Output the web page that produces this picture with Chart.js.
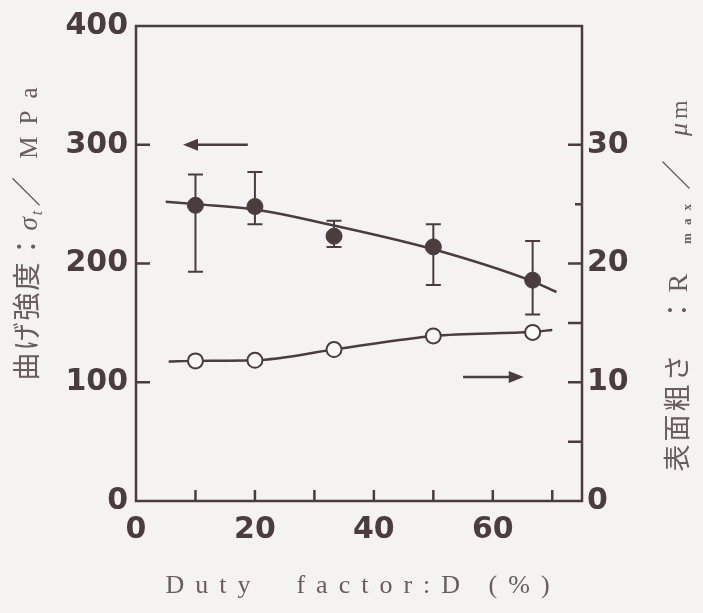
<!DOCTYPE html>
<html>
<head>
<meta charset="utf-8">
<script src="https://cdn.jsdelivr.net/npm/chart.js@4/dist/chart.umd.min.js"></script>
<style>
  html, body { margin: 0; padding: 0; background: #f5f3f2; }
  canvas { display: block; }
</style>
</head>
<body>
<canvas id="c" width="703" height="613"></canvas>
<script>
// Duty factor D (%) of each measured condition
const dutyFactor = [10, 20, 33.3, 50, 66.7];
// Bending strength (MPa), mean and scatter band
const strength = [249, 248, 223, 214, 186];
const strengthHigh = [275, 277, 236, 233, 219];
const strengthLow = [193, 233, 214, 182, 157];
// Surface roughness Rmax (µm)
const roughness = [11.8, 11.85, 12.75, 13.9, 14.2];

// Trend curves drawn through the data
const strengthCurveD = [5, 10, 20, 33.3, 50, 66.7, 70.7];
const strengthCurve = [252, 250, 245.5, 232, 212, 185, 176];
const roughCurveD = [5.5, 10, 20, 33.3, 50, 66.7, 70];
const roughCurve = [11.75, 11.8, 11.85, 12.75, 13.9, 14.25, 14.4];

// Axis ticks
const xTickLabels = [0, 20, 40, 60];
const xTickMarks = [10, 20, 30, 40, 50, 60, 70];
const leftTickLabels = [0, 100, 200, 300, 400];
const leftTickMarks = [100, 200, 300];
const rightTickLabels = [0, 10, 20, 30];
const rightTickMarks = [5, 10, 15, 20, 25, 30];

// Arrows pointing each curve to its axis: [tail D, head D], level on that axis
const strengthArrowD = [18.8, 7.9];
const strengthArrowLevel = 300;
const roughArrowD = [55, 65.2];
const roughArrowLevel = 10.45;

const INK = '#4b3d3d';
const TITLE_INK = '#6a5c5c';
const CJK = '"Noto Sans CJK JP", "Noto Sans CJK SC", sans-serif';
const SERIF = '"Liberation Serif", "DejaVu Serif", serif';
const TICK_FONT = { family: '"DejaVu Sans", sans-serif', size: 30, weight: 'bold' };

const toXY = (xs, ys) => xs.map((x, i) => ({ x, y: ys[i] }));

// draws a run of text pieces along one baseline, centred on (cx, cy)
function drawRichText(ctx, pieces, cx, cy, angle) {
  ctx.save();
  ctx.translate(cx, cy);
  ctx.rotate(angle);
  ctx.textBaseline = 'alphabetic';
  ctx.textAlign = 'left';
  let total = 0;
  const widths = pieces.map(p => {
    ctx.font = p.font;
    ctx.letterSpacing = (p.ls || 0) + 'px';
    const w = ctx.measureText(p.text).width;
    total += (p.gap || 0) + w;
    return w;
  });
  let x = -total / 2;
  pieces.forEach((p, i) => {
    x += p.gap || 0;
    ctx.font = p.font;
    ctx.letterSpacing = (p.ls || 0) + 'px';
    ctx.fillStyle = p.color || TITLE_INK;
    ctx.fillText(p.text, x, (p.dy || 0) + 9);
    x += widths[i];
  });
  ctx.restore();
}

function arrow(ctx, x0, x1, y) {
  const dir = Math.sign(x1 - x0);
  ctx.beginPath();
  ctx.moveTo(x0, y);
  ctx.lineTo(x1 - dir * 12, y);
  ctx.stroke();
  ctx.beginPath();
  ctx.moveTo(x1, y);
  ctx.lineTo(x1 - dir * 15, y - 6);
  ctx.lineTo(x1 - dir * 15, y + 6);
  ctx.closePath();
  ctx.fill();
}

const decorations = {
  id: 'decorations',
  afterDatasetsDraw(chart) {
    const { ctx, chartArea: a, scales } = chart;
    const x = scales.x, yl = scales.y, yr = scales.y2;
    ctx.save();
    ctx.strokeStyle = INK;
    ctx.fillStyle = INK;
    ctx.lineCap = 'butt';

    // scatter bars of the strength data
    ctx.lineWidth = 2;
    dutyFactor.forEach((d, i) => {
      const px = x.getPixelForValue(d);
      const top = yl.getPixelForValue(strengthHigh[i]);
      const bot = yl.getPixelForValue(strengthLow[i]);
      ctx.beginPath();
      ctx.moveTo(px, top); ctx.lineTo(px, bot);
      ctx.moveTo(px - 7.5, top); ctx.lineTo(px + 7.5, top);
      ctx.moveTo(px - 7.5, bot); ctx.lineTo(px + 7.5, bot);
      ctx.stroke();
    });

    // frame
    ctx.lineWidth = 2.5;
    ctx.strokeRect(a.left, a.top, a.right - a.left, a.bottom - a.top);

    // inward tick marks
    ctx.beginPath();
    leftTickMarks.forEach(v => {
      const py = yl.getPixelForValue(v);
      ctx.moveTo(a.left, py); ctx.lineTo(a.left + 14, py);
    });
    rightTickMarks.forEach(v => {
      const py = yr.getPixelForValue(v);
      ctx.moveTo(a.right, py); ctx.lineTo(a.right - (v === 25 ? 7 : 14), py);
    });
    xTickMarks.forEach(v => {
      const px = x.getPixelForValue(v);
      ctx.moveTo(px, a.bottom); ctx.lineTo(px, a.bottom - 11);
    });
    ctx.stroke();

    // arrows
    arrow(ctx, x.getPixelForValue(strengthArrowD[0]), x.getPixelForValue(strengthArrowD[1]),
      yl.getPixelForValue(strengthArrowLevel));
    arrow(ctx, x.getPixelForValue(roughArrowD[0]), x.getPixelForValue(roughArrowD[1]),
      yr.getPixelForValue(roughArrowLevel));
    ctx.restore();
  },
  afterDraw(chart) {
    const { ctx, chartArea: a } = chart;
    // left axis title
    drawRichText(ctx, [
      { text: '曲げ強度', font: `28px ${CJK}`, ls: 2 },
      { text: '：', font: `28px ${CJK}` },
      { text: 'σ', font: `italic 27px ${SERIF}`, gap: 2 },
      { text: 't', font: `italic 16px ${SERIF}`, gap: 2, dy: 5 },
      { text: '／', font: `30px ${CJK}`, gap: 4 },
      { text: 'MPa', font: `25px ${SERIF}`, gap: 18, ls: 12 }
    ], 28, 228, -Math.PI / 2);
    // right axis title
    drawRichText(ctx, [
      { text: '表面粗さ', font: `27px ${CJK}`, ls: 3 },
      { text: '：', font: `27px ${CJK}`, gap: 28 },
      { text: 'R', font: `28px ${SERIF}`, gap: 4 },
      { text: 'max', font: `bold 13px ${SERIF}`, gap: 30, ls: 8, dy: 4 },
      { text: '／', font: `30px ${CJK}`, gap: 6 },
      { text: 'μ', font: `italic 26px ${SERIF}`, gap: 24 },
      { text: 'm', font: `24px ${SERIF}`, gap: 4 }
    ], 678, 286, -Math.PI / 2);
    // x axis title
    drawRichText(ctx, [
      { text: 'Duty  factor:D (%)', font: `26px ${SERIF}`, ls: 11 }
    ], (a.left + a.right) / 2 + 4, 584, 0);
  }
};

new Chart(document.getElementById('c'), {
  type: 'line',
  data: {
    datasets: [
      {
        label: 'strength curve', yAxisID: 'y',
        data: toXY(strengthCurveD, strengthCurve),
        borderColor: INK, borderWidth: 2.5, pointRadius: 0,
        cubicInterpolationMode: 'monotone', order: 3
      },
      {
        label: 'roughness curve', yAxisID: 'y2',
        data: toXY(roughCurveD, roughCurve),
        borderColor: INK, borderWidth: 2.5, pointRadius: 0,
        cubicInterpolationMode: 'monotone', order: 3
      },
      {
        label: '曲げ強度', yAxisID: 'y',
        data: toXY(dutyFactor, strength),
        showLine: false, pointRadius: 8,
        pointBackgroundColor: INK, pointBorderColor: INK, pointBorderWidth: 1, order: 1
      },
      {
        label: '表面粗さ', yAxisID: 'y2',
        data: toXY(dutyFactor, roughness),
        showLine: false, pointRadius: 7.5,
        pointBackgroundColor: '#fbfaf9', pointBorderColor: INK, pointBorderWidth: 2, order: 1
      }
    ]
  },
  options: {
    responsive: false,
    animation: false,
    events: [],
    layout: { padding: { top: 25, left: 0, right: 0, bottom: 0 } },
    plugins: { legend: { display: false }, tooltip: { enabled: false } },
    scales: {
      x: {
        type: 'linear', position: 'bottom', min: 0, max: 75,
        grid: { display: false, drawTicks: false },
        border: { display: false },
        ticks: { font: TICK_FONT, color: INK, padding: 11, maxRotation: 0 },
        afterBuildTicks: s => { s.ticks = xTickLabels.map(v => ({ value: v })); },
        afterFit: s => { s.height = 112; }
      },
      y: {
        type: 'linear', position: 'left', min: 0, max: 400,
        grid: { display: false, drawTicks: false },
        border: { display: false },
        ticks: { font: TICK_FONT, color: INK, padding: 8 },
        afterBuildTicks: s => { s.ticks = leftTickLabels.map(v => ({ value: v })); },
        afterFit: s => { s.width = 136; }
      },
      y2: {
        type: 'linear', position: 'right', min: 0, max: 40,
        grid: { display: false, drawTicks: false },
        border: { display: false },
        ticks: { font: TICK_FONT, color: INK, padding: 5 },
        afterBuildTicks: s => { s.ticks = rightTickLabels.map(v => ({ value: v })); },
        afterFit: s => { s.width = 121; }
      }
    }
  },
  plugins: [decorations]
});
</script>
</body>
</html>
